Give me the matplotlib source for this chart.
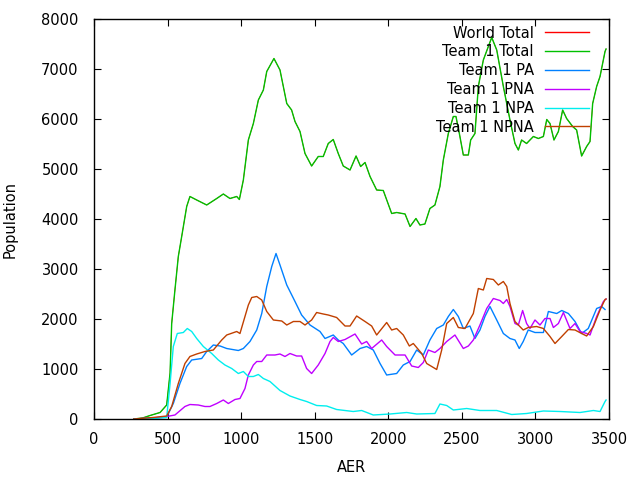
import numpy as np
import matplotlib
matplotlib.use('Agg')
import matplotlib.pyplot as plt

plt.rcParams['font.family'] = ['DejaVu Sans']

# Team 1 Total (World Total is the same curve, drawn underneath)
total_x = [270, 330, 381, 449, 494, 517, 528, 550, 573, 596, 630, 652, 698, 766, 834, 879, 924,
           970, 988, 1015, 1049, 1083, 1117, 1151, 1174, 1223, 1264, 1310, 1343, 1366, 1400, 1434,
           1479, 1524, 1558, 1592, 1626, 1660, 1694, 1740, 1781, 1812, 1842, 1876, 1921, 1966,
           2023, 2057, 2114, 2148, 2188, 2215, 2249, 2283, 2317, 2351, 2374, 2408, 2442, 2460,
           2483, 2510, 2544, 2560, 2589, 2612, 2646, 2680, 2703, 2737, 2782, 2827, 2861, 2884,
           2906, 2940, 2986, 3020, 3054, 3077, 3099, 3126, 3156, 3185, 3212, 3253, 3280, 3314,
           3348, 3371, 3389, 3416, 3439, 3473, 3480]
total_y = [0, 20, 70, 130, 280, 920, 1910, 2580, 3250, 3650, 4250, 4450, 4380, 4280, 4410, 4500,
           4410, 4450, 4390, 4780, 5580, 5910, 6380, 6580, 6950, 7210, 6980, 6310, 6180, 5950,
           5750, 5310, 5060, 5250, 5250, 5510, 5590, 5310, 5060, 4980, 5260, 5050, 5130, 4850,
           4580, 4570, 4110, 4130, 4100, 3850, 4010, 3880, 3900, 4210, 4280, 4650, 5180, 5710,
           6050, 6050, 5710, 5280, 5280, 5580, 5710, 6650, 7180, 7450, 7630, 7380, 6650, 5980,
           5510, 5380, 5580, 5510, 5650, 5610, 5650, 5990, 5910, 5580, 5750, 6180, 6010, 5850,
           5780, 5260, 5450, 5550, 6310, 6650, 6850, 7350, 7400]

# Team 1 PA
pa_x = [270, 400, 494, 539, 584, 630, 664, 732, 766, 811, 857, 902, 981, 1015, 1060, 1106, 1140,
        1174, 1208, 1237, 1264, 1310, 1366, 1411, 1468, 1536, 1570, 1626, 1660, 1694, 1751,
        1808, 1853, 1898, 1944, 1989, 2057, 2102, 2148, 2193, 2238, 2283, 2329, 2374, 2408,
        2442, 2476, 2510, 2555, 2589, 2623, 2657, 2691, 2737, 2782, 2827, 2861, 2890, 2917,
        2951, 2997, 3054, 3088, 3145, 3179, 3224, 3269, 3314, 3359, 3416, 3450, 3473]
pa_y = [0, 20, 40, 310, 710, 1050, 1180, 1210, 1350, 1480, 1460, 1410, 1370, 1410, 1550, 1780,
        2110, 2650, 3050, 3310, 3080, 2680, 2350, 2080, 1880, 1750, 1610, 1680, 1580, 1510,
        1280, 1410, 1450, 1380, 1110, 880, 910, 1080, 1150, 1380, 1280, 1580, 1810, 1880, 2050,
        2190, 2050, 1810, 1860, 1610, 1780, 2050, 2250, 1980, 1710, 1610, 1580, 1410, 1550,
        1780, 1730, 1730, 2150, 2110, 2170, 2110, 1950, 1710, 1810, 2210, 2250, 2190]

# Team 1 PNA
pna_x = [270, 400, 494, 550, 618, 652, 709, 754, 788, 834, 879, 913, 958, 992, 1026, 1049, 1083,
         1106, 1140, 1174, 1230, 1264, 1298, 1332, 1377, 1411, 1445, 1479, 1524, 1570, 1604,
         1626, 1660, 1706, 1774, 1819, 1853, 1887, 1955, 1989, 2046, 2114, 2159, 2204, 2238,
         2272, 2317, 2351, 2397, 2453, 2510, 2544, 2578, 2623, 2669, 2714, 2759, 2782, 2805,
         2827, 2861, 2884, 2913, 2940, 2963, 2997, 3031, 3065, 3099, 3122, 3156, 3190, 3235,
         3269, 3303, 3348, 3371, 3416, 3462, 3480]
pna_y = [0, 20, 50, 80, 250, 290, 280, 250, 250, 310, 380, 310, 390, 410, 610, 880, 1080, 1150,
         1150, 1280, 1280, 1300, 1250, 1310, 1260, 1260, 1010, 910, 1080, 1310, 1550, 1630,
         1550, 1590, 1700, 1500, 1550, 1410, 1580, 1450, 1280, 1280, 1060, 1030, 1130, 1380,
         1330, 1410, 1550, 1680, 1410, 1460, 1580, 1880, 2210, 2410, 2370, 2310, 2390, 2250,
         1910, 1880, 2170, 1910, 1810, 1980, 1880, 2010, 2010, 1830, 1910, 2130, 1810, 1910,
         1750, 1710, 1680, 2050, 2350, 2400]

# Team 1 NPA
npa_x = [270, 400, 494, 517, 539, 566, 607, 634, 664, 698, 743, 800, 845, 890, 936, 981, 1015,
         1049, 1083, 1117, 1151, 1196, 1264, 1332, 1400, 1445, 1513, 1581, 1649, 1762, 1819,
         1898, 2012, 2125, 2193, 2317, 2351, 2397, 2442, 2533, 2623, 2737, 2839, 2940, 3054,
         3167, 3303, 3394, 3439, 3473, 3480]
npa_y = [0, 10, 30, 710, 1450, 1710, 1730, 1810, 1750, 1610, 1450, 1310, 1180, 1080, 1010, 910,
         950, 850, 850, 890, 810, 750, 570, 460, 390, 350, 270, 260, 190, 150, 170, 80, 100, 130,
         100, 110, 300, 270, 180, 210, 170, 170, 90, 110, 160, 150, 130, 170, 150, 350, 380]

# Team 1 NPNA
npna_x = [270, 400, 494, 528, 573, 618, 652, 698, 754, 811, 868, 902, 970, 992, 1026, 1049, 1072,
          1106, 1140, 1174, 1219, 1276, 1310, 1355, 1400, 1434, 1479, 1513, 1558, 1592, 1649,
          1706, 1740, 1785, 1842, 1887, 1921, 1989, 2023, 2057, 2102, 2143, 2170, 2227, 2261,
          2329, 2363, 2397, 2442, 2476, 2521, 2578, 2612, 2646, 2669, 2714, 2748, 2782, 2805,
          2827, 2861, 2917, 2951, 3008, 3054, 3099, 3133, 3179, 3224, 3269, 3314, 3348, 3394,
          3439, 3473, 3480]
npna_y = [0, 30, 60, 250, 710, 1110, 1250, 1300, 1350, 1380, 1580, 1680, 1750, 1710, 2050, 2280,
          2430, 2450, 2380, 2150, 1980, 1960, 1880, 1950, 1950, 1880, 1980, 2130, 2100, 2080,
          2030, 1860, 1860, 2060, 1950, 1860, 1680, 1930, 1780, 1810, 1680, 1460, 1510, 1310,
          1110, 990, 1380, 1910, 2030, 1830, 1810, 2110, 2610, 2580, 2810, 2790, 2680, 2750,
          2650, 2310, 1950, 1780, 1830, 1850, 1810, 1650, 1510, 1650, 1790, 1780, 1710, 1660,
          1850, 2180, 2390, 2400]

fig = plt.figure(figsize=(6.4, 4.8), dpi=100)
ax = fig.add_axes([94/640, 1-419/480, (609-94)/640, (419-19)/480])

# world total is thinner so team 1 total fully hides it
ax.plot(total_x, total_y, color='#ff0000', lw=0.5, label='World Total')
ax.plot(total_x, total_y, color='#00c000', lw=1, label='Team 1 Total')
ax.plot(pa_x, pa_y, color='#0080ff', lw=1, label='Team 1 PA')
ax.plot(pna_x, pna_y, color='#c000ff', lw=1, label='Team 1 PNA')
ax.plot(npa_x, npa_y, color='#00eeee', lw=1, label='Team 1 NPA')
ax.plot(npna_x, npna_y, color='#c04000', lw=1, label='Team 1 NPNA')

ax.set_xlim(0, 3500)
ax.set_ylim(0, 8000)
ax.set_xticks(np.arange(0, 3501, 500))
ax.set_yticks(np.arange(0, 8001, 1000))
ax.tick_params(direction='in', length=5, top=True, right=True, labelsize=10.5, colors='black')
ax.tick_params(axis='x', pad=9)
ax.tick_params(axis='y', pad=11)
for s in ax.spines.values():
    s.set_linewidth(1)
ax.set_xlabel('AER', fontsize=10.5, labelpad=10)
ax.set_ylabel('Population', fontsize=10.5, labelpad=17)

leg = ax.legend(loc='upper right', bbox_to_anchor=(0.974, 1.0), frameon=False, markerfirst=False,
                fontsize=10.5, handlelength=3.0, handletextpad=0.8, labelspacing=0.26,
                borderaxespad=0.05)
for t in leg.get_texts():
    t.set_ha('right')
leg.get_lines()[0].set_linewidth(1)

fig.savefig('out.png', dpi=100)
